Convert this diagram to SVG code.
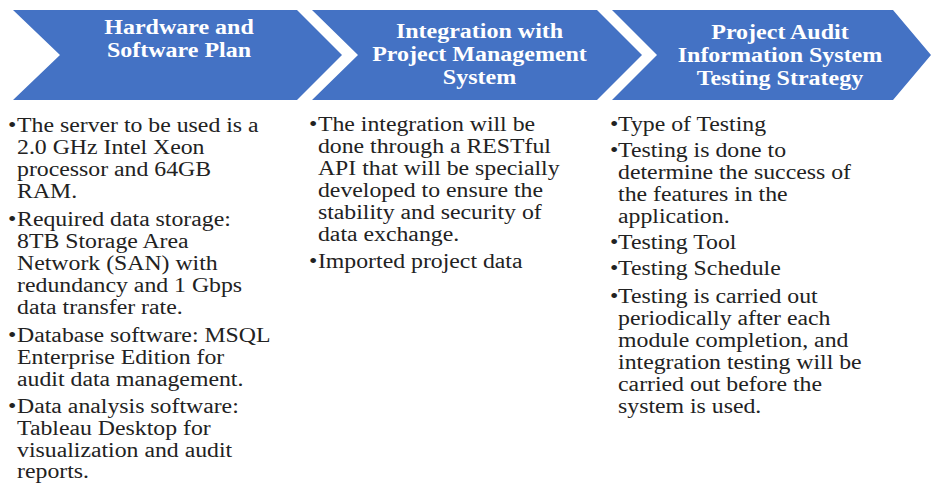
<svg xmlns="http://www.w3.org/2000/svg" width="932" height="483" viewBox="0 0 932 483">
<style>
.chev{fill:#4472C4}
.hd{font-family:"Liberation Serif","Times New Roman",serif;font-weight:bold;font-size:20px;fill:#ffffff;text-anchor:middle}
.bd{font-family:"Liberation Serif","Times New Roman",serif;font-size:20.5px;fill:#222222}
</style>
<rect x="0" y="0" width="932" height="483" fill="#ffffff"/>
<g id="node-hardware">
<polygon class="chev" points="13,10 297,10 342,55 297,100 13,100 60,55"/>
<g transform="scale(1.2,1)">
<text class="hd" x="149.2" y="34">Hardware and</text>
<text class="hd" x="149.2" y="57">Software Plan</text>
</g>
<g class="bd" transform="scale(1.16,1)">
<text x="6.9" y="132">•</text>
<text x="14.7" y="132">The server to be used is a</text>
<text x="14.7" y="154">2.0 GHz  Intel Xeon</text>
<text x="14.7" y="176">processor and 64GB</text>
<text x="14.7" y="198">RAM.</text>
<text x="6.9" y="226">•</text>
<text x="14.7" y="226">Required data storage:</text>
<text x="14.7" y="248">8TB  Storage Area</text>
<text x="14.7" y="270">Network (SAN) with</text>
<text x="14.7" y="292">redundancy and 1 Gbps</text>
<text x="14.7" y="314">data transfer rate.</text>
<text x="6.9" y="342">•</text>
<text x="14.7" y="342">Database software: MSQL</text>
<text x="14.7" y="364">Enterprise Edition for</text>
<text x="14.7" y="386">audit data management.</text>
<text x="6.9" y="413">•</text>
<text x="14.7" y="413">Data analysis software:</text>
<text x="14.7" y="435">Tableau Desktop for</text>
<text x="14.7" y="457">visualization and audit</text>
<text x="14.7" y="478">reports.</text>
</g>
</g>
<g id="node-integration">
<polygon class="chev" points="312,10 597,10 642,55 597,100 312,100 358,55"/>
<g transform="scale(1.2,1)">
<text class="hd" x="399.6" y="38">Integration with</text>
<text class="hd" x="399.6" y="61">Project Management</text>
<text class="hd" x="399.6" y="84">System</text>
</g>
<g class="bd" transform="scale(1.16,1)">
<text x="266.4" y="131">•</text>
<text x="274.1" y="131">The integration will be</text>
<text x="274.1" y="153">done through a RESTful</text>
<text x="274.1" y="175">API that will be specially</text>
<text x="274.1" y="197">developed to ensure the</text>
<text x="274.1" y="219">stability  and security of</text>
<text x="274.1" y="241">data exchange.</text>
<text x="266.4" y="268">•</text>
<text x="274.1" y="268">Imported project data</text>
</g>
</g>
<g id="node-testing">
<polygon class="chev" points="612,10 893,10 931,55 893,100 612,100 657,55"/>
<g transform="scale(1.2,1)">
<text class="hd" x="650" y="39">Project Audit</text>
<text class="hd" x="650" y="62">Information System</text>
<text class="hd" x="650" y="85">Testing Strategy</text>
</g>
<g class="bd" transform="scale(1.16,1)">
<text x="525.9" y="131">•</text>
<text x="532.8" y="131">Type of Testing</text>
<text x="525.9" y="157">•</text>
<text x="532.8" y="157">Testing is done to</text>
<text x="532.8" y="179">determine the success of</text>
<text x="532.8" y="201">the features in the</text>
<text x="532.8" y="223">application.</text>
<text x="525.9" y="249">•</text>
<text x="532.8" y="249">Testing Tool</text>
<text x="525.9" y="275">•</text>
<text x="532.8" y="275">Testing Schedule</text>
<text x="525.9" y="303">•</text>
<text x="532.8" y="303">Testing is carried out</text>
<text x="532.8" y="325">periodically after each</text>
<text x="532.8" y="347">module completion, and</text>
<text x="532.8" y="369">integration testing will be</text>
<text x="532.8" y="391">carried out before the</text>
<text x="532.8" y="413">system is used.</text>
</g>
</g>
<g id="connectors"></g>
</svg>
